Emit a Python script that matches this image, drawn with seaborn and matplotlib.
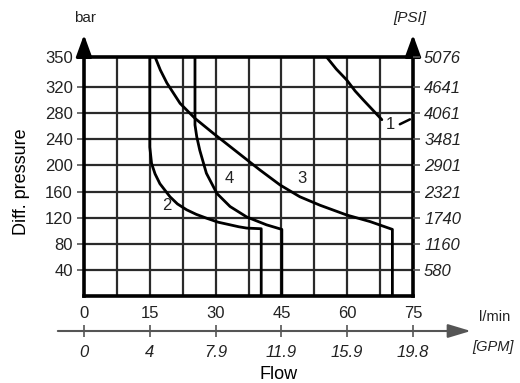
import numpy as np
import pandas as pd
import matplotlib
matplotlib.use('Agg')
import matplotlib.pyplot as plt
import seaborn as sns

# curve data (flow l/min, diff. pressure bar)
flow_1 = [55.3, 57.5, 59.9, 61.8, 63.7, 65.8, 67.9]
pres_1 = [350, 338, 327, 314, 300, 285, 270]

flow_2 = [15.0, 15.0, 15.4, 16.2, 17.3, 19.6, 21.3, 23.4, 25.6, 28.0, 30.6, 33.3, 35.3, 37.1, 40.4, 40.4]
pres_2 = [350, 228, 203, 187, 172, 152, 141, 132, 125, 119, 113, 109, 106, 104, 103, 0]

flow_3 = [16.2, 17.4, 18.9, 21.9, 25.3, 29.5, 34.8, 40.1, 44.7, 49.2, 53.8, 59.9, 65.2, 70.3, 70.3]
pres_3 = [350, 337, 324, 295, 272, 249, 221, 193, 170, 152, 139, 124, 114, 102, 0]

flow_4 = [25.3, 25.3, 25.7, 26.4, 27.9, 30.3, 33.3, 37.1, 41.6, 45.1, 45.1]
pres_4 = [350, 262, 244, 223, 188, 157, 137, 121, 109, 102, 0]

bar_ticks = [40, 80, 120, 160, 200, 240, 280, 320, 350]
psi_labels = ['580', '1160', '1740', '2321', '2901', '3481', '4061', '4641', '5076']
lpm_ticks = [0, 15, 30, 45, 60, 75]
gpm_labels = ['0', '4', '7.9', '11.9', '15.9', '19.8']

curve_names = ['1', '2', '3', '4']
label_flow = [69.9, 18.9, 49.6, 33.1]
label_pres = [263, 139, 180, 180]

df = pd.concat([
    pd.DataFrame({'curve': n, 'flow': f, 'pressure': p})
    for n, f, p in zip(curve_names, [flow_1, flow_2, flow_3, flow_4], [pres_1, pres_2, pres_3, pres_4])
], ignore_index=True)

sns.set_theme(style='white')
plt.rcParams['font.family'] = ['Liberation Sans', 'DejaVu Sans']
txt = '#222222'

fig = plt.figure(figsize=(5.2, 3.83), dpi=100)
ax = fig.add_axes([84 / 520, 1 - 296 / 383, 329 / 520, 239 / 383])

# the chart's y axis is stretched above 320 bar
yb = [0, 320, 350]
yp = [0, 320, 366]
ax.set_yscale('function', functions=(lambda v: np.interp(v, yb, yp),
                                      lambda v: np.interp(v, yp, yb)))
ax.set_xlim(0, 75)
ax.set_ylim(0, 350)

# grid
for xv in np.arange(7.5, 75, 7.5):
    ax.axvline(xv, color='#2a2a2a', lw=1.6, zorder=1)
for yv in bar_ticks[:-1]:
    ax.axhline(yv, color='#2a2a2a', lw=1.6, zorder=1)

sns.lineplot(data=df, x='flow', y='pressure', units='curve', estimator=None,
             sort=False, color='black', lw=2, ax=ax, zorder=3)

for n, fx, py in zip(curve_names, label_flow, label_pres):
    ax.text(fx, py, n, ha='center', va='center', fontsize=12, color=txt,
            zorder=4, bbox=dict(facecolor='white', edgecolor='none', pad=0.5)
            if n == '1' else None)
ax.plot([72.0, 74.3], [263, 270.5], color='black', lw=1.8, zorder=3)

for s in ax.spines.values():
    s.set_color('black')
    s.set_linewidth(2.6)
    s.set_zorder(5)

ax.set_xlabel('')
ax.set_ylabel('')
ax.set_xticks(lpm_ticks)
ax.set_xticklabels([str(v) for v in lpm_ticks])
ax.tick_params(axis='x', length=0, pad=7, labelsize=12, labelcolor=txt)
ax.set_yticks(bar_ticks)
ax.set_yticklabels([str(v) for v in bar_ticks])
ax.tick_params(axis='y', left=True, direction='out', length=5, width=1.2,
               color='#555555', pad=3, labelsize=12, labelcolor=txt)

axr = ax.twinx()
axr.set_yscale('function', functions=(lambda v: np.interp(v, yb, yp),
                                       lambda v: np.interp(v, yp, yb)))
axr.set_ylim(0, 350)
axr.set_yticks(bar_ticks)
axr.set_yticklabels(psi_labels, fontstyle='italic')
axr.tick_params(axis='y', right=True, direction='out', length=5, width=1.2,
                color='#555555', pad=3, labelsize=12, labelcolor=txt)
for s in axr.spines.values():
    s.set_visible(False)

# arrows on top of the pressure axes
for xa in [0, 1]:
    ax.annotate('', xy=(xa, 1.105), xytext=(xa, 0.99), xycoords='axes fraction',
                arrowprops=dict(arrowstyle='-|>,head_length=1.1,head_width=0.4',
                                color='black', lw=2.2, mutation_scale=12),
                annotation_clip=False)
ax.text(0.003, 1.163, 'bar', transform=ax.transAxes, ha='center', va='center',
        fontsize=11, color=txt)
ax.text(0.99, 1.163, '[PSI]', transform=ax.transAxes, ha='center', va='center',
        fontsize=11, color=txt, fontstyle='italic')

# second flow axis in GPM
yoff = -35 / 239
ax.annotate('', xy=(88.8, yoff), xytext=(-6.6, yoff), xycoords=ax.get_xaxis_transform(),
            arrowprops=dict(arrowstyle='-|>,head_length=1.0,head_width=0.3',
                            color='#555555', lw=1.5, mutation_scale=14),
            annotation_clip=False)
sec = ax.secondary_xaxis(yoff)
sec.spines['bottom'].set_visible(False)
sec.set_xticks(lpm_ticks)
sec.set_xticklabels(gpm_labels, fontstyle='italic')
sec.tick_params(axis='x', direction='inout', length=8, width=1.2, color='#555555',
                pad=6, labelsize=12, labelcolor=txt)

fig.text(0.952, 0.172, 'l/min', ha='center', va='center', fontsize=10.5, color=txt)
fig.text(0.948, 0.094, '[GPM]', ha='center', va='center', fontsize=10.5,
         color=txt, fontstyle='italic')
fig.text(0.535, 0.021, 'Flow', ha='center', va='center', fontsize=13, color='black')
fig.text(0.042, 0.525, 'Diff. pressure', ha='center', va='center', fontsize=13,
         rotation=90, color='black')

plt.savefig('out.png', dpi=100)
